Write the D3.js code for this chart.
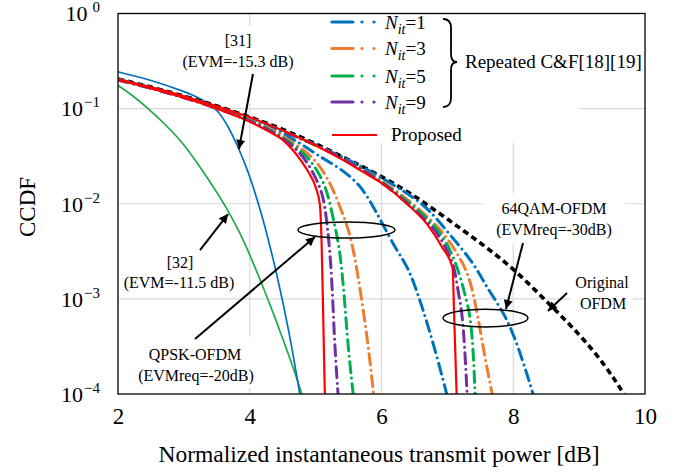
<!DOCTYPE html>
<html><head><meta charset="utf-8">
<script src="https://cdn.jsdelivr.net/npm/d3@7"></script>
<style>body{margin:0;background:#fff}svg{display:block}</style>
</head><body><svg id="c" width="683" height="472"></svg>
<script>
// ---------- data ----------
const xTicks = [2, 4, 6, 8, 10];
const yTicks = [1, 1e-1, 1e-2, 1e-3, 1e-4];
const yTickExps = ["0", "−1", "−2", "−3", "−4"];
const legendIters = ["1", "3", "5", "9"];

const originalOFDM = [[2,0.205],[2.5,0.169],[3,0.136],[3.5,0.107],[4,0.082],[4.5,0.061],[5,0.043],[5.5,0.029],[6,0.0195],[6.5,0.0122],[7,0.0069],[7.5,0.0039],[8,0.0021],[8.5,0.00095],[9,0.00043],[9.4,0.0002],[9.68,0.0001]];

const ref31 = [[2,0.243],[2.5,0.2],[3,0.152],[3.2,0.133],[3.37,0.114],[3.52,0.095],[3.67,0.066],[3.82,0.04],[3.93,0.026],[4.02,0.0178],[4.2,0.0071],[4.4,0.002],[4.6,0.00045],[4.76,0.0001]];
const ref32 = [[2,0.175],[2.2,0.142],[2.5,0.095],[2.8,0.06],[3.0,0.042],[3.2,0.027],[3.41,0.0165],[3.62,0.0098],[3.85,0.005],[4.02,0.0027],[4.2,0.00135],[4.38,0.00065],[4.5,0.00038],[4.65,0.0002],[4.79,0.0001]];

// QPSK-OFDM (EVMreq = -20 dB)
const proposedQPSK = [[2,0.2],[2.5,0.163],[3,0.13],[3.5,0.1],[4,0.073],[4.3,0.057],[4.5,0.047],[4.65,0.037],[4.8,0.027],[4.9,0.021],[5.0,0.015],[5.065,0.0097],[5.09,0.004],[5.11,0.001],[5.125,0.0003],[5.14,0.0001]];
const n9QPSK = [[2,0.2],[2.5,0.164],[3,0.131],[3.5,0.101],[4,0.075],[4.3,0.059],[4.5,0.049],[4.7,0.038],[4.85,0.029],[5.0,0.019],[5.08,0.014],[5.14,0.01],[5.22,0.0032],[5.26,0.001],[5.29,0.00032],[5.34,0.0001]];
const n5QPSK = [[2,0.2],[2.5,0.165],[3,0.132],[3.5,0.102],[4,0.076],[4.3,0.06],[4.5,0.05],[4.7,0.04],[4.9,0.03],[5.05,0.021],[5.15,0.015],[5.22,0.01],[5.3,0.0055],[5.37,0.0032],[5.44,0.001],[5.49,0.00032],[5.57,0.0001]];
const n3QPSK = [[2,0.2],[2.5,0.165],[3,0.133],[3.5,0.103],[4,0.077],[4.3,0.062],[4.5,0.052],[4.7,0.042],[4.95,0.031],[5.1,0.023],[5.25,0.015],[5.35,0.01],[5.49,0.0057],[5.58,0.0032],[5.7,0.001],[5.8,0.00032],[5.88,0.0001]];
const n1QPSK = [[2,0.2],[2.5,0.166],[3,0.134],[3.5,0.104],[4,0.078],[4.4,0.06],[4.8,0.042],[5.07,0.031],[5.37,0.0237],[5.67,0.016],[5.85,0.01],[6.0,0.0065],[6.23,0.0032],[6.4,0.0022],[6.58,0.001],[6.8,0.00032],[6.99,0.0001]];

// 64QAM-OFDM (EVMreq = -30 dB)
const proposed64QAM = [[2,0.203],[2.5,0.167],[3,0.135],[3.5,0.106],[4,0.081],[4.5,0.059],[5,0.041],[5.37,0.03],[5.7,0.022],[6,0.0165],[6.4,0.0098],[6.7,0.006],[6.92,0.0035],[7.08,0.0021],[7.1,0.00078],[7.12,0.00028],[7.14,0.0001]];
const n9QAM = [[2,0.203],[3,0.135],[4,0.081],[5,0.042],[5.5,0.028],[6,0.0172],[6.5,0.0088],[6.8,0.0055],[6.96,0.0037],[7.11,0.0022],[7.16,0.0012],[7.22,0.00076],[7.26,0.00034],[7.3,0.0001]];
const n5QAM = [[2,0.203],[3,0.135],[4,0.081],[5,0.042],[5.5,0.028],[6,0.0175],[6.5,0.0093],[6.8,0.006],[6.96,0.0042],[7.08,0.0029],[7.2,0.0017],[7.3,0.0009],[7.34,0.0007],[7.39,0.00033],[7.42,0.0001]];
const n3QAM = [[2,0.203],[3,0.135],[4,0.081],[5,0.042],[5.5,0.028],[6,0.0178],[6.5,0.0098],[6.89,0.0055],[7.08,0.0036],[7.2,0.0026],[7.34,0.0017],[7.46,0.00068],[7.57,0.00024],[7.68,0.0001]];
const n1QAM = [[2,0.204],[3,0.135],[4,0.081],[5,0.042],[5.5,0.029],[6,0.019],[6.5,0.0115],[6.73,0.0086],[7.04,0.0047],[7.4,0.0024],[7.6,0.0013],[7.87,0.0007],[8.05,0.00035],[8.2,0.00017],[8.3,0.0001]];

// ---------- drawing ----------
const C = {blue:"#0072BD", orange:"#ED7D31", green:"#00B050", purple:"#7030A0", red:"#FF0000", thinBlue:"#0070C0", thinGreen:"#1EAA4A"};
const serif = "Liberation Serif";
const svg = d3.select("#c");
const L = 118, R = 645, T = 13.5, B = 394;
const x = d3.scaleLinear().domain([2, 10]).range([L, R]);
const y = d3.scaleLog().domain([1e-4, 1]).range([B, T]);

// grid
const grid = svg.append("g").attr("stroke", "#d9d9d9").attr("stroke-width", 1.2);
grid.selectAll(".gx").data(xTicks.slice(1, -1)).join("line")
  .attr("x1", d => x(d)).attr("x2", d => x(d)).attr("y1", T).attr("y2", B);
grid.selectAll(".gy").data(yTicks.slice(1, -1)).join("line")
  .attr("y1", d => y(d)).attr("y2", d => y(d)).attr("x1", L).attr("x2", R);

// white boxes behind texts (hide grid only)
const boxes = [[178,26,120,78],[483,193,142,52],[570,272,63,42],[133,337,127,51],[312,14,268,129]];
svg.append("g").selectAll("rect").data(boxes).join("rect")
  .attr("x", d => d[0]).attr("y", d => d[1]).attr("width", d => d[2]).attr("height", d => d[3]).attr("fill", "#fff");

// curves
const defs = svg.append("defs");
defs.append("clipPath").attr("id", "clip").append("rect").attr("x", L).attr("y", T).attr("width", R - L).attr("height", B - T);
const smooth = d3.line().x(d => x(d[0])).y(d => y(d[1])).curve(d3.curveBasis);
const sharp = d3.line().x(d => x(d[0])).y(d => y(d[1])).curve(d3.curveMonotoneX);
const plot = svg.append("g").attr("clip-path", "url(#clip)");
const DD = "11,5.5,0.01,5.5";
const series = [
  {d: ref32, c: C.thinGreen, w: 1.7, dash: null},
  {d: ref31, c: C.thinBlue, w: 1.7, dash: null},
  {d: originalOFDM, c: "#000", w: 3.6, dash: "6,4", cap: "butt"},
  {d: n1QAM, c: C.blue, w: 3, dash: DD},
  {d: n3QAM, c: C.orange, w: 3, dash: DD},
  {d: n5QAM, c: C.green, w: 3, dash: DD},
  {d: n9QAM, c: C.purple, w: 3, dash: DD},
  {d: n1QPSK, c: C.blue, w: 3, dash: DD},
  {d: n3QPSK, c: C.orange, w: 3, dash: DD},
  {d: n5QPSK, c: C.green, w: 3, dash: DD},
  {d: n9QPSK, c: C.purple, w: 3, dash: DD},
  {d: proposed64QAM, c: C.red, w: 2.2, dash: null, sharp: true},
  {d: proposedQPSK, c: C.red, w: 2.2, dash: null, sharp: true}
];
plot.selectAll("path").data(series).join("path")
  .attr("d", s => (s.sharp ? sharp : smooth)(s.d)).attr("fill", "none")
  .attr("stroke", s => s.c).attr("stroke-width", s => s.w)
  .attr("stroke-dasharray", s => s.dash)
  .attr("stroke-linecap", s => s.dash ? (s.cap || "round") : "butt")
  .attr("stroke-linejoin", "round");

// frame
svg.append("rect").attr("x", L).attr("y", T).attr("width", R - L).attr("height", B - T)
  .attr("fill", "none").attr("stroke", "#000").attr("stroke-width", 1.3);

// x axis
const xAxis = svg.append("g").attr("transform", `translate(0,${B})`)
  .call(d3.axisBottom(x).tickValues(xTicks).tickSize(0).tickPadding(14).tickFormat(d3.format("d")));
xAxis.select(".domain").remove();
xAxis.selectAll("text").attr("font-family", serif).attr("font-size", 23).attr("fill", "#000");

// y axis
const yAxis = svg.append("g").attr("transform", `translate(${L},0)`)
  .call(d3.axisLeft(y).tickValues(yTicks).tickSize(0).tickPadding(18).tickFormat(() => ""));
yAxis.select(".domain").remove();
yAxis.selectAll("text").each(function(d, i) {
  const t = d3.select(this).attr("font-family", serif).attr("font-size", 22).attr("fill", "#000").attr("dy", "0.33em");
  t.append("tspan").text("10");
  t.append("tspan").attr("font-size", 15).attr("dy", -9).attr("dx", i === 0 ? 5 : 1).text(yTickExps[i]);
});

// axis titles
svg.append("text").attr("x", 379).attr("y", 462).attr("text-anchor", "middle")
  .attr("font-family", serif).attr("font-size", 23.5).text("Normalized instantaneous transmit power [dB]");
svg.append("text").attr("transform", "translate(35,207) rotate(-90)").attr("text-anchor", "middle")
  .attr("font-family", serif).attr("font-size", 23).text("CCDF");

// legend
const leg = svg.append("g");
const legColors = [C.blue, C.orange, C.green, C.purple];
const legY = [22, 48.5, 76, 102];
legendIters.forEach((n, i) => {
  leg.append("path").attr("d", `M332,${legY[i]}H377`).attr("stroke", legColors[i]).attr("stroke-width", 3.2)
    .attr("stroke-dasharray", "21,9,0.01,12,0.01,40").attr("stroke-linecap", "round").attr("fill", "none");
  const t = leg.append("text").attr("x", 385).attr("y", legY[i] + 6.5).attr("font-family", serif).attr("font-size", 19);
  t.append("tspan").attr("font-style", "italic").text("N");
  t.append("tspan").attr("font-style", "italic").attr("font-size", 14).attr("dy", 5).text("it");
  t.append("tspan").attr("dy", -5).text("=" + n);
});
leg.append("path").attr("d", "M332,135H377").attr("stroke", C.red).attr("stroke-width", 2.2);
leg.append("text").attr("x", 391).attr("y", 141).attr("font-family", serif).attr("font-size", 19).text("Proposed");
// brace
leg.append("path").attr("d", "M443,19 Q451,19 451,28 L451,54 Q451,62 457,62 Q451,62 451,70 L451,98 Q451,107 443,107")
  .attr("fill", "none").attr("stroke", "#000").attr("stroke-width", 1.8);
leg.append("text").attr("x", 465).attr("y", 68).attr("font-family", serif).attr("font-size", 19).text("Repeated C&F[18][19]");

// annotations
const ann = svg.append("g").attr("font-family", serif).attr("font-size", 16).attr("text-anchor", "middle");
const annText = [[238,46,"[31]"],[238,67,"(EVM=-15.3 dB)"],[180,268,"[32]"],[179,288,"(EVM=-11.5 dB)"],
  [195,360,"QPSK-OFDM"],[196,381,"(EVMreq=-20dB)"],[554,214,"64QAM-OFDM"],[554,235,"(EVMreq=-30dB)"],
  [602,288,"Original"],[603,309,"OFDM"]];
ann.selectAll("text").data(annText).join("text").attr("x", d => d[0]).attr("y", d => d[1]).text(d => d[2]);

defs.append("marker").attr("id", "ah").attr("viewBox", "0 0 10 10").attr("refX", 10).attr("refY", 5)
  .attr("markerWidth", 11).attr("markerHeight", 9).attr("markerUnits", "userSpaceOnUse").attr("orient", "auto")
  .append("path").attr("d", "M0,0L10,5L0,10z").attr("fill", "#000");
const arrows = [[[4.049,0.231],[3.837,0.0376]],[[3.245,0.00326],[3.67,0.0078]],[[3.169,0.000379],[4.99,0.00448]],
  [[8.148,0.00387],[7.89,0.000783]],[[8.816,0.00115],[8.527,0.000746]]];
svg.append("g").selectAll("line").data(arrows).join("line")
  .attr("x1", d => x(d[0][0])).attr("y1", d => y(d[0][1])).attr("x2", d => x(d[1][0])).attr("y2", d => y(d[1][1]))
  .attr("stroke", "#000").attr("stroke-width", 2).attr("marker-end", "url(#ah)");

const ellipses = [[4.732,6.205,0.00643,0.00436],[6.934,8.224,0.00078,0.000507]];
svg.append("g").selectAll("ellipse").data(ellipses).join("ellipse")
  .attr("cx", d => (x(d[0]) + x(d[1])) / 2).attr("cy", d => (y(d[2]) + y(d[3])) / 2)
  .attr("rx", d => (x(d[1]) - x(d[0])) / 2).attr("ry", d => (y(d[3]) - y(d[2])) / 2)
  .attr("fill", "none").attr("stroke", "#000").attr("stroke-width", 1.5);
</script></body></html>
